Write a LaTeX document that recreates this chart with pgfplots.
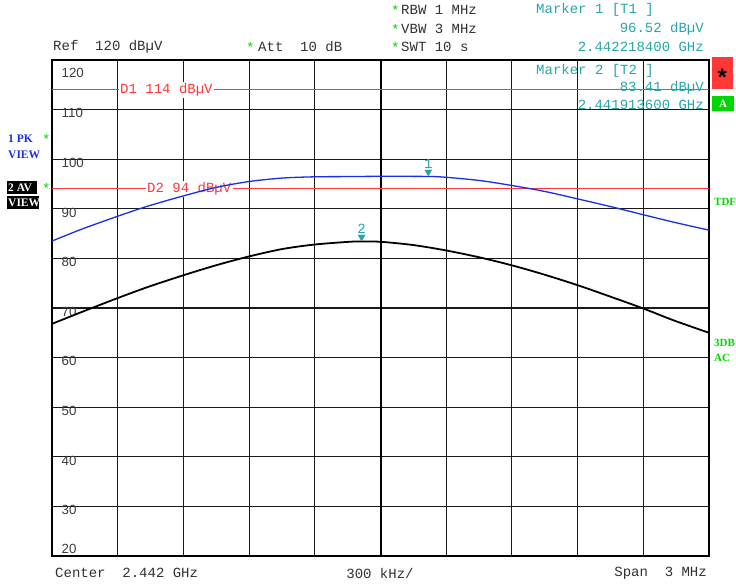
\documentclass[border=0pt]{standalone}
\usepackage{fontspec}
\setmainfont{Liberation Serif}
\newfontfamily\mono{Liberation Mono}
\newfontfamily\sans{Liberation Sans}
\usepackage{pgfplots}
\pgfplotsset{compat=1.18}
\definecolor{trblue}{RGB}{25,45,235}
\definecolor{mteal}{RGB}{40,165,170}
\definecolor{dred}{RGB}{255,55,55}
\definecolor{sgreen}{RGB}{0,215,0}
\definecolor{tickgray}{RGB}{60,60,60}
\definecolor{hdr}{RGB}{50,50,50}
\newcommand{\mf}{\mono\fontsize{14}{14}\selectfont}
\newcommand{\tf}{\sans\fontsize{13.3}{13.3}\selectfont}
\newcommand{\lf}{\bfseries\fontsize{11.5}{11.5}\selectfont}
\begin{document}
\begin{tikzpicture}[x=1pt,y=1pt]
\useasboundingbox[fill=white] (0,0) rectangle (736,584);
\begin{axis}[at={(52pt,28pt)}, anchor=south west, scale only axis,
  width=657pt, height=496pt,
  xmin=-1.5, xmax=1.5, ymin=20, ymax=120,
  xtick={-1.2,-0.9,-0.6,-0.3,0,0.3,0.6,0.9,1.2},
  ytick={30,40,50,60,70,80,90,100,110},
  xticklabels={}, yticklabels={}, major tick length=0pt,
  grid=major, grid style={black!90, line width=1.1pt},
  axis line style={line width=2.8pt, black},
  clip=true]
% center line
\addplot[black, line width=2pt] coordinates {(0,20) (0,120)};
% y labels
\node[anchor=west, inner sep=0pt, font=\tf, text=tickgray, xshift=9.5pt, yshift=-13.3pt] at (axis cs:-1.5,120) {120};
\node[anchor=west, inner sep=0pt, font=\tf, text=tickgray, xshift=9.5pt, yshift=-3.7pt] at (axis cs:-1.5,110) {110};
\node[anchor=west, inner sep=0pt, font=\tf, text=tickgray, xshift=9.5pt, yshift=-3.7pt] at (axis cs:-1.5,100) {100};
\node[anchor=west, inner sep=0pt, font=\tf, text=tickgray, xshift=9.5pt, yshift=-3.7pt] at (axis cs:-1.5,90) {90};
\node[anchor=west, inner sep=0pt, font=\tf, text=tickgray, xshift=9.5pt, yshift=-3.7pt] at (axis cs:-1.5,80) {80};
\node[anchor=west, inner sep=0pt, font=\tf, text=tickgray, xshift=9.5pt, yshift=-3.7pt] at (axis cs:-1.5,70) {70};
\node[anchor=west, inner sep=0pt, font=\tf, text=tickgray, xshift=9.5pt, yshift=-3.7pt] at (axis cs:-1.5,60) {60};
\node[anchor=west, inner sep=0pt, font=\tf, text=tickgray, xshift=9.5pt, yshift=-3.7pt] at (axis cs:-1.5,50) {50};
\node[anchor=west, inner sep=0pt, font=\tf, text=tickgray, xshift=9.5pt, yshift=-3.7pt] at (axis cs:-1.5,40) {40};
\node[anchor=west, inner sep=0pt, font=\tf, text=tickgray, xshift=9.5pt, yshift=-3.7pt] at (axis cs:-1.5,30) {30};
\node[anchor=west, inner sep=0pt, font=\tf, text=tickgray, xshift=9.5pt, yshift=7pt] at (axis cs:-1.5,20) {20};
% display lines
\addplot[dred, line width=1pt] coordinates {(-1.5,114) (1.5,114)};
\node[anchor=west, fill=white, inner sep=1.5pt, font=\mf, text=dred, xshift=66.5pt] at (axis cs:-1.5,114) {D1 114 dBµV};
\addplot[dred, line width=1pt] coordinates {(-1.5,94) (1.5,94)};
\node[anchor=west, fill=white, inner sep=1.5pt, font=\mf, text=dred, xshift=93.5pt] at (axis cs:-1.5,94) {D2 94 dBµV};
% trace 1 (PK, blue)
\addplot[trblue, line width=1.3pt, smooth] coordinates {
(-1.5,83.5) (-1.364,85.9) (-1.2,88.5) (-1.058,90.6) (-0.9,92.6) (-0.752,94.3)
(-0.6,95.5) (-0.447,96.2) (-0.3,96.45) (-0.142,96.5) (0,96.55) (0.2184,96.52)
(0.3,96.35) (0.453,95.7) (0.6,94.7) (0.75,93.5) (0.9,92.0) (1.064,90.3)
(1.2,88.8) (1.339,87.3) (1.5,85.7)};
% trace 2 (AV, black)
\addplot[black, line width=1.8pt, smooth] coordinates {
(-1.5,66.8) (-1.364,69.2) (-1.2,72.0) (-1.058,74.3) (-0.9,76.6) (-0.752,78.6)
(-0.6,80.4) (-0.447,81.9) (-0.3,82.8) (-0.142,83.35) (-0.0864,83.41) (0,83.35)
(0.148,82.7) (0.3,81.6) (0.453,80.2) (0.6,78.6) (0.743,76.8) (0.9,74.6)
(1.049,72.3) (1.2,69.9) (1.339,67.5) (1.5,65.0)};
% markers
\addplot[only marks, mark=triangle*, mark size=4pt,
  mark options={yshift=4.5pt, rotate=180, fill=mteal, draw=mteal}]
  coordinates {(0.2184,96.52) (-0.0864,83.41)};
\node[font=\mf, text=mteal, yshift=13pt, inner sep=0pt] at (axis cs:0.2184,96.52) {1};
\node[font=\mf, text=mteal, yshift=13pt, inner sep=0pt] at (axis cs:-0.0864,83.41) {2};
\end{axis}
% header
\node[anchor=west, inner sep=0pt, font=\mf, text=hdr] at (53,537) {Ref\ \ 120 dBµV};
\node[anchor=west, inner sep=0pt, font=\mf, text=sgreen] at (246,537) {*};
\node[anchor=west, inner sep=0pt, font=\mf, text=hdr] at (258,537) {Att\ \ 10 dB};
\node[anchor=west, inner sep=0pt, font=\mf, text=sgreen] at (391,574) {*};
\node[anchor=west, inner sep=0pt, font=\mf, text=hdr] at (401,574) {RBW 1 MHz};
\node[anchor=west, inner sep=0pt, font=\mf, text=sgreen] at (391,555) {*};
\node[anchor=west, inner sep=0pt, font=\mf, text=hdr] at (401,555) {VBW 3 MHz};
\node[anchor=west, inner sep=0pt, font=\mf, text=sgreen] at (391,537) {*};
\node[anchor=west, inner sep=0pt, font=\mf, text=hdr] at (401,537) {SWT 10 s};
\node[anchor=west, inner sep=0pt, font=\mf, text=mteal] at (536,574) {Marker 1 [T1 ]};
\node[anchor=east, inner sep=0pt, font=\mf, text=mteal] at (704,555) {96.52 dBµV};
\node[anchor=east, inner sep=0pt, font=\mf, text=mteal] at (704,537) {2.442218400 GHz};
\node[anchor=west, inner sep=0pt, font=\mf, text=mteal] at (536,513) {Marker 2 [T2 ]};
\node[anchor=east, inner sep=0pt, font=\mf, text=mteal] at (704,496) {83.41 dBµV};
\node[anchor=east, inner sep=0pt, font=\mf, text=mteal] at (704,479) {2.441913600 GHz};
% footer
\node[anchor=west, inner sep=0pt, font=\mf, text=hdr] at (55,11) {Center\ \ 2.442 GHz};
\node[anchor=center, inner sep=0pt, font=\mf, text=hdr] at (380,11) {300 kHz/};
\node[anchor=east, inner sep=0pt, font=\mf, text=hdr] at (707,11) {Span\ \ 3 MHz};
% left trace labels
\node[anchor=west, inner sep=0pt, font=\lf, text=trblue] at (8,445) {1 PK};
\node[anchor=west, inner sep=0pt, font=\lf, text=trblue] at (8,429.5) {VIEW};
\node[anchor=west, inner sep=0pt, font=\mf, text=sgreen] at (42,445) {*};
\fill[black] (6.7,390) rectangle (37.3,403.3);
\node[anchor=west, inner sep=0pt, font=\lf, text=white] at (8,396.5) {2 AV};
\fill[black] (6.7,374.7) rectangle (39.3,388);
\node[anchor=west, inner sep=0pt, font=\lf, text=white] at (8,381.3) {VIEW};
\node[anchor=west, inner sep=0pt, font=\mf, text=sgreen] at (42,395.5) {*};
% right badges
\fill[dred] (711.7,494.7) rectangle (732.7,526.7);
\node[inner sep=0pt, font=\sans\bfseries\fontsize{24}{24}\selectfont, text=black] at (722.2,507) {*};
\fill[sgreen] (711.7,473) rectangle (734.3,488);
\node[inner sep=0pt, font=\bfseries\fontsize{11}{11}\selectfont, text=white] at (723,480.5) {A};
\node[anchor=west, inner sep=0pt, font=\bfseries\fontsize{11}{11}\selectfont, text=sgreen] at (714,382.3) {TDF};
\node[anchor=west, inner sep=0pt, font=\bfseries\fontsize{11}{11}\selectfont, text=sgreen] at (714,241) {3DB};
\node[anchor=west, inner sep=0pt, font=\bfseries\fontsize{11}{11}\selectfont, text=sgreen] at (714,225.7) {AC};
\end{tikzpicture}
\end{document}
